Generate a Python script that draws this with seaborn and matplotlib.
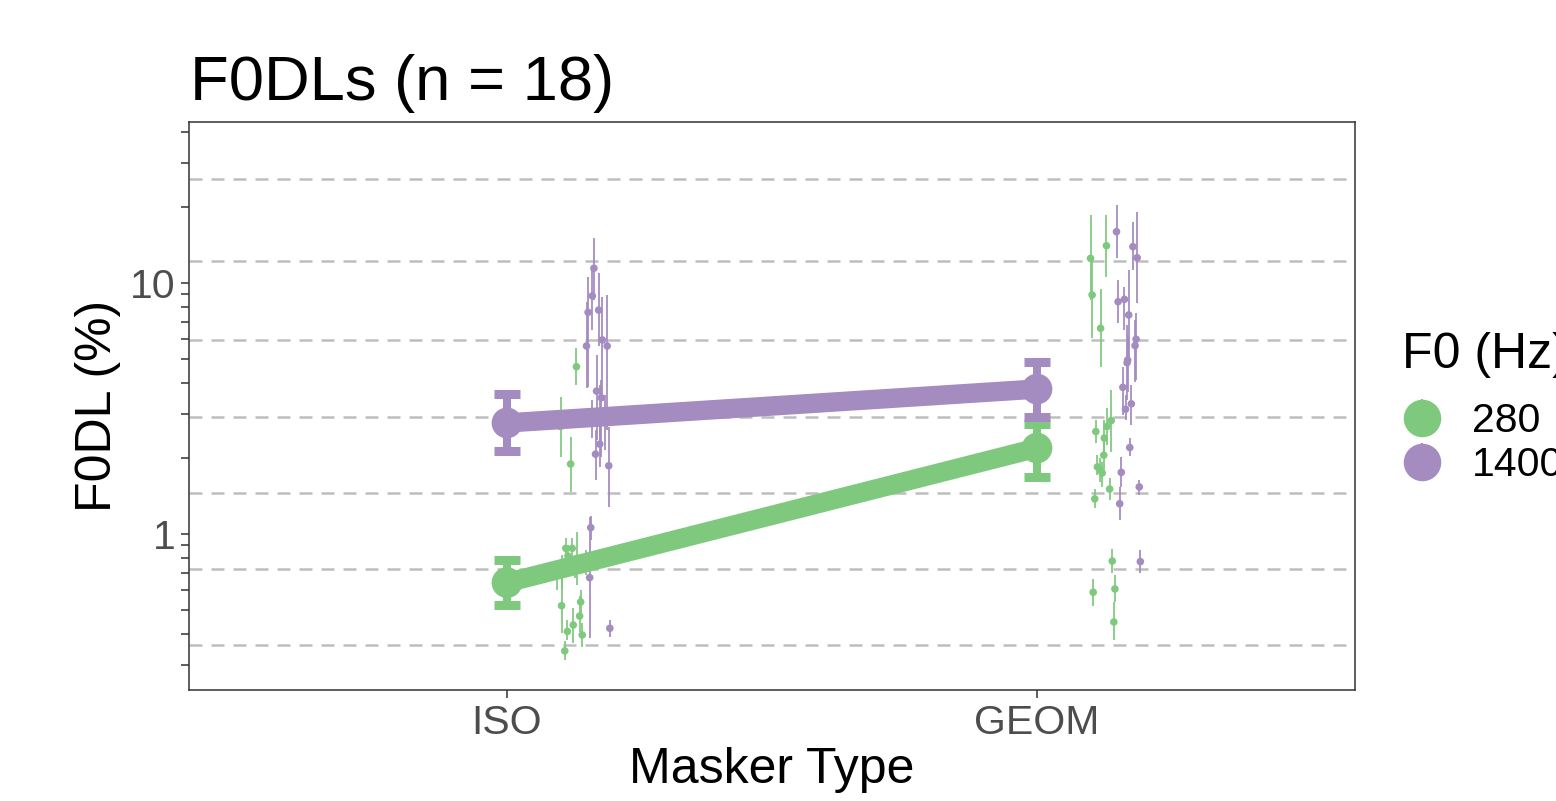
import numpy as np
import pandas as pd
import matplotlib
matplotlib.use("Agg")
import matplotlib.pyplot as plt
import seaborn as sns
from matplotlib.lines import Line2D
from matplotlib.legend_handler import HandlerTuple
from matplotlib.ticker import LogLocator, NullFormatter

# -----------------------------
# Data (F0DL in %)
# -----------------------------
maskers = ["ISO", "GEOM"]
f0_levels = ["280", "1400"]

# group means with error bars
mean_280 = [0.64, 2.20]
mean_280_lo = [0.52, 1.69]
mean_280_hi = [0.79, 2.74]
mean_1400 = [2.77, 3.78]
mean_1400_lo = [2.14, 2.93]
mean_1400_hi = [3.61, 4.84]

# individual listeners: value, error bar ends, horizontal jitter
iso_280 = [4.64, 2.68, 1.90, 0.877, 0.877, 0.788, 0.817, 0.719, 0.518, 0.536,
           0.471, 0.434, 0.409, 0.396, 0.342, 0.746, 0.766, 0.687]
iso_280_lo = [3.92, 2.03, 1.47, 0.773, 0.752, 0.626, 0.719, 0.598, 0.403, 0.471,
              0.407, 0.368, 0.378, 0.355, 0.315, 0.668, 0.687, 0.598]
iso_280_hi = [5.51, 3.51, 2.43, 0.964, 0.964, 1.02, 0.904, 0.825, 0.668, 0.598,
              0.566, 0.507, 0.454, 0.442, 0.375, 0.825, 0.864, 0.766]
iso_280_dx = [0.131, 0.101, 0.120, 0.111, 0.123, 0.133, 0.115, 0.104, 0.103, 0.139,
              0.137, 0.125, 0.114, 0.142, 0.109, 0.128, 0.149, 0.094]

iso_1400 = [11.45, 8.88, 7.64, 7.80, 5.61, 5.93, 5.61, 3.71, 3.49, 2.85,
            3.06, 2.28, 2.08, 1.87, 1.06, 0.670, 0.421, 2.90]
iso_1400_lo = [8.56, 6.50, 3.85, 5.61, 3.82, 3.42, 2.60, 2.37, 2.03, 2.16,
               2.37, 1.85, 1.64, 1.28, 0.944, 0.385, 0.389, 2.41]
iso_1400_hi = [15.1, 11.27, 10.57, 10.96, 8.40, 8.80, 8.96, 5.17, 4.11, 3.58,
               3.92, 2.72, 2.60, 2.67, 1.18, 1.17, 0.454, 3.42]
iso_1400_dx = [0.164, 0.161, 0.153, 0.173, 0.150, 0.180, 0.189, 0.169, 0.178, 0.185,
               0.175, 0.175, 0.167, 0.192, 0.158, 0.156, 0.194, 0.160]

geom_280 = [12.54, 14.08, 8.96, 6.60, 2.83, 2.68, 2.56, 2.41, 2.06, 1.85,
            1.80, 1.75, 1.51, 1.38, 0.780, 0.586, 0.604, 0.446]
geom_280_lo = [8.56, 10.57, 6.04, 4.63, 2.12, 2.26, 2.30, 2.12, 1.80, 1.72,
               1.61, 1.54, 1.37, 1.27, 0.699, 0.517, 0.536, 0.378]
geom_280_hi = [18.66, 18.66, 12.35, 9.47, 3.75, 3.18, 2.85, 2.85, 2.37, 2.06,
               2.01, 1.94, 1.67, 1.51, 0.871, 0.662, 0.687, 0.536]
geom_280_dx = [0.101, 0.131, 0.104, 0.120, 0.140, 0.132, 0.111, 0.127, 0.126, 0.114,
               0.119, 0.123, 0.137, 0.109, 0.142, 0.106, 0.147, 0.145]

geom_1400 = [16.01, 13.95, 12.61, 8.42, 8.61, 7.46, 5.97, 5.63, 4.81, 3.84,
             3.30, 3.14, 2.21, 1.76, 1.54, 1.32, 0.776, 4.93]
geom_1400_lo = [12.58, 11.27, 8.32, 6.93, 6.50, 4.93, 4.11, 4.03, 3.42, 2.98,
                2.72, 2.85, 2.05, 1.54, 1.43, 1.14, 0.699, 3.68]
geom_1400_hi = [20.46, 17.50, 19.18, 10.28, 9.64, 11.27, 7.59, 7.12, 6.80, 4.64,
                3.92, 3.58, 2.41, 2.03, 1.64, 1.54, 0.864, 6.21]
geom_1400_dx = [0.150, 0.181, 0.189, 0.153, 0.165, 0.173, 0.187, 0.185, 0.170, 0.162,
                0.178, 0.167, 0.175, 0.159, 0.193, 0.156, 0.195, 0.171]

# reference lines at fractions of a semitone
semitone_steps = [1 / 16, 1 / 8, 1 / 4, 1 / 2, 1, 2, 4]

# -----------------------------
# Build tables
# -----------------------------
parts = []
for pos, f0, val, lo, hi, dx in [
    (0, "280", iso_280, iso_280_lo, iso_280_hi, iso_280_dx),
    (0, "1400", iso_1400, iso_1400_lo, iso_1400_hi, iso_1400_dx),
    (1, "280", geom_280, geom_280_lo, geom_280_hi, geom_280_dx),
    (1, "1400", geom_1400, geom_1400_lo, geom_1400_hi, geom_1400_dx),
]:
    parts.append(pd.DataFrame({"x": pos + np.array(dx), "val": val, "lo": lo,
                               "hi": hi, "f0": f0}))
subj = pd.concat(parts, ignore_index=True)

means = pd.DataFrame({
    "x": [0, 1, 0, 1],
    "val": mean_280 + mean_1400,
    "lo": mean_280_lo + mean_1400_lo,
    "hi": mean_280_hi + mean_1400_hi,
    "f0": ["280", "280", "1400", "1400"],
})

# -----------------------------
# Plot
# -----------------------------
sns.set_theme(style="white")
plt.rcParams["font.family"] = ["Liberation Sans", "DejaVu Sans"]
plt.rcParams["text.color"] = "black"

colors = {"280": "#7FC97F", "1400": "#A48BC0"}
axis_col = "#333333"

fig = plt.figure(figsize=(15.56, 8.01), dpi=100)
ax = fig.add_axes([189 / 1556, 1 - 690 / 801, 1166 / 1556, 568 / 801])
ax.set_yscale("log")

for st in semitone_steps:
    ax.axhline((2 ** (st / 12) - 1) * 100, color="#BEBEBE", lw=1.8,
               linestyle=(0, (5.2, 3.6)), zorder=0)

# individual listeners
for f0 in f0_levels:
    d = subj[subj["f0"] == f0]
    ax.vlines(d["x"], d["lo"], d["hi"], color=colors[f0], lw=1.4, alpha=0.9, zorder=2)
sns.scatterplot(data=subj, x="x", y="val", hue="f0", palette=colors, s=30,
                linewidth=0, legend=False, ax=ax, zorder=3)

# group means
sns.lineplot(data=means, x="x", y="val", hue="f0", palette=colors, lw=14,
             legend=False, ax=ax, zorder=4, solid_capstyle="butt")
for f0 in f0_levels:
    d = means[means["f0"] == f0]
    ax.errorbar(d["x"], d["val"], yerr=[d["val"] - d["lo"], d["hi"] - d["val"]],
                fmt="none", ecolor=colors[f0], elinewidth=5.8, capsize=9.6,
                capthick=6.5, zorder=5)
sns.scatterplot(data=means, x="x", y="val", hue="f0", palette=colors, s=490,
                linewidth=0, legend=False, ax=ax, zorder=6)

# axes
ax.set_xlim(-0.6, 1.6)
ax.set_ylim(0.239, 43.8)
ax.set_xticks([0, 1])
ax.set_xticklabels(maskers)
ax.set_yticks([1, 10])
ax.set_yticklabels(["1", "10"])
ax.yaxis.set_minor_locator(LogLocator(base=10, subs=np.arange(2, 10)))
ax.yaxis.set_minor_formatter(NullFormatter())
ax.tick_params(which="both", left=True, bottom=True, length=5.8, width=1.1,
               color=axis_col, labelsize=29.5, labelcolor="#4D4D4D", pad=4)
ax.tick_params(axis="x", which="minor", length=0)
for sp in ax.spines.values():
    sp.set_visible(True)
    sp.set_color(axis_col)
    sp.set_linewidth(1.1)
ax.grid(False)

ax.set_xlabel("Masker Type", fontsize=36, color="black")
ax.set_ylabel("F0DL (%)", fontsize=36, color="black")
ax.xaxis.set_label_coords(0.5, -0.1)
ax.yaxis.set_label_coords(-0.058, 0.5)

fig.text(190 / 1556, 1 - 100 / 801, "F0DLs (n = 18)", fontsize=45.5,
         ha="left", va="baseline", color="black")

# legend (title drawn as text, entries as a legend)
fig.text(1402 / 1556, 1 - 368 / 801, "F0 (Hz)", fontsize=36,
         ha="left", va="baseline", color="black")
handles = []
for f0 in f0_levels:
    bar = Line2D([], [], color=colors[f0], marker="|", markersize=27,
                 markeredgewidth=1.5, linestyle="none")
    dot = Line2D([], [], color=colors[f0], marker="o", markersize=26,
                 linestyle="none")
    handles.append((bar, dot))
leg = ax.legend(handles, f0_levels, loc="center left",
                bbox_to_anchor=(1401.5 / 1556, 1 - 443 / 801),
                bbox_transform=fig.transFigure, frameon=False, fontsize=29.5,
                handlelength=1.0, handletextpad=0.72, labelspacing=0.15,
                borderpad=0, borderaxespad=0,
                handler_map={tuple: HandlerTuple(ndivide=1, pad=0)})
for t in leg.get_texts():
    t.set_color("black")

fig.savefig("out.png", dpi=100)
